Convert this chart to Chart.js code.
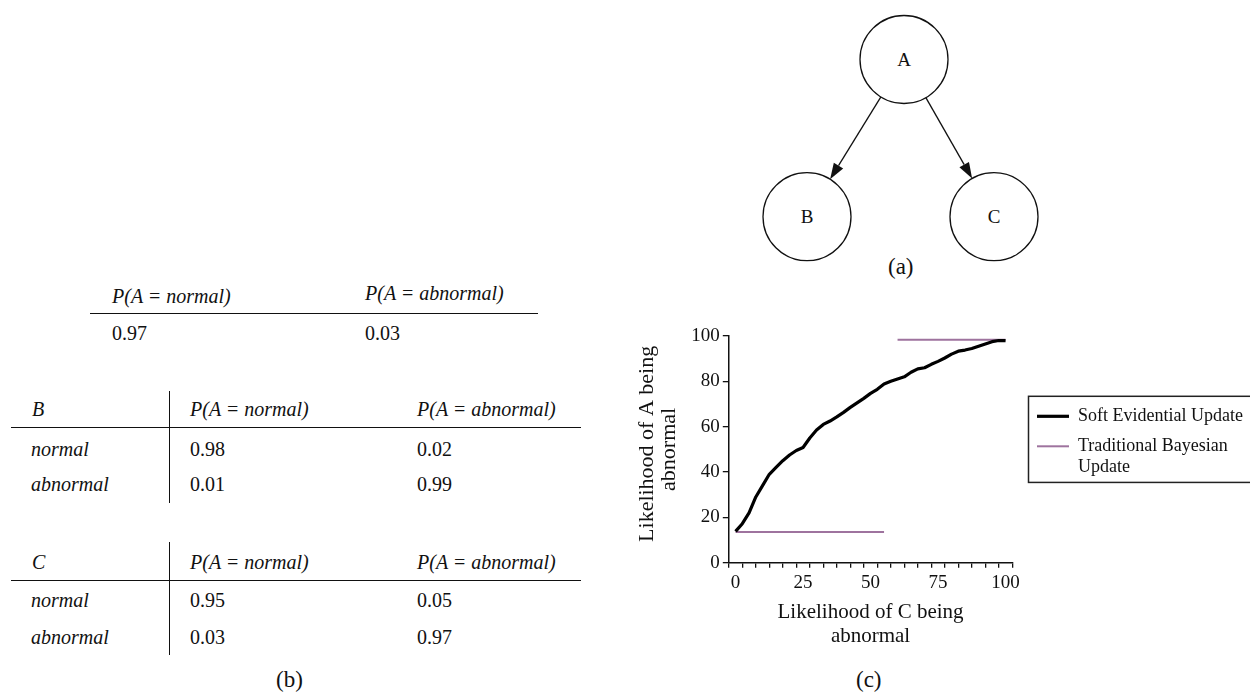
<!DOCTYPE html>
<html>
<head>
<meta charset="utf-8">
<script src="https://cdn.jsdelivr.net/npm/chart.js@4.4.1/dist/chart.umd.min.js"></script>
<style>
  html, body { margin: 0; padding: 0; background: #fff; }
  body { width: 1250px; height: 694px; position: relative; overflow: hidden;
         font-family: 'Liberation Serif', 'Times New Roman', serif; color: #111; }
  .t { position: absolute; font-size: 20px; line-height: 24px; white-space: nowrap; }
  .i { font-style: italic; }
  .cap { font-size: 23px; }
  .hl { position: absolute; height: 0; border-top: 1.3px solid #111; }
  .vl { position: absolute; width: 0; border-left: 1.3px solid #111; }
  #net { position: absolute; left: 0; top: 0; }
  #chartBox { position: absolute; left: 620px; top: 320px; width: 630px; height: 333px; }
</style>
</head>
<body>

<!-- (a) network -->
<svg id="net" width="1250" height="300"></svg>
<div class="t cap" style="left:888px; top:255px;">(a)</div>

<!-- (b) probability tables -->
<div class="t i" style="left:112px; top:284px;">P(A = normal)</div>
<div class="t i" style="left:365px; top:281px;">P(A = abnormal)</div>
<div class="hl" style="left:90px; top:313px; width:448px;"></div>
<div class="t" style="left:112px; top:321px;">0.97</div>
<div class="t" style="left:365px; top:321px;">0.03</div>

<div class="vl" style="left:169px; top:391px; height:112px;"></div>
<div class="t i" style="left:32px; top:397px;">B</div>
<div class="t i" style="left:190px; top:397px;">P(A = normal)</div>
<div class="t i" style="left:417px; top:397px;">P(A = abnormal)</div>
<div class="hl" style="left:11px; top:427px; width:570px;"></div>
<div class="t i" style="left:31px; top:437px;">normal</div>
<div class="t" style="left:190px; top:437px;">0.98</div>
<div class="t" style="left:417px; top:437px;">0.02</div>
<div class="t i" style="left:31px; top:472px;">abnormal</div>
<div class="t" style="left:190px; top:472px;">0.01</div>
<div class="t" style="left:417px; top:472px;">0.99</div>

<div class="vl" style="left:169px; top:542px; height:113px;"></div>
<div class="t i" style="left:32px; top:550px;">C</div>
<div class="t i" style="left:190px; top:550px;">P(A = normal)</div>
<div class="t i" style="left:417px; top:550px;">P(A = abnormal)</div>
<div class="hl" style="left:11px; top:580px; width:570px;"></div>
<div class="t i" style="left:31px; top:588px;">normal</div>
<div class="t" style="left:190px; top:588px;">0.95</div>
<div class="t" style="left:417px; top:588px;">0.05</div>
<div class="t i" style="left:31px; top:625px;">abnormal</div>
<div class="t" style="left:190px; top:625px;">0.03</div>
<div class="t" style="left:417px; top:625px;">0.97</div>

<div class="t cap" style="left:276px; top:668px;">(b)</div>

<!-- (c) chart -->
<div id="chartBox"><canvas id="chart"></canvas></div>
<div class="t cap" style="left:856px; top:668px;">(c)</div>

<script>
// likelihood of C being abnormal (x) vs likelihood of A being abnormal (y)
const softX = [0, 2.5, 5, 7.5, 10, 12.5, 15, 17.5, 20, 22.5, 25, 27.5, 30, 32.5, 35, 37.5, 40,
               42.5, 45, 47.5, 50, 52.5, 55, 57.5, 60, 62.5, 65, 67.5, 70, 72.5, 75, 77.5, 80,
               82.5, 85, 87.5, 90, 92.5, 95, 97.5, 100];
const softY = [13.8, 17.2, 22, 29, 34, 39, 42, 45, 47.5, 49.5, 50.8, 55, 58.5, 61, 62.5, 64.3, 66.3,
               68.5, 70.5, 72.5, 74.7, 76.5, 78.8, 80, 81, 82, 84, 85.5, 86, 87.5, 88.8, 90.3, 92,
               93.3, 93.8, 94.5, 95.5, 96.5, 97.5, 98, 98];

// traditional update: jumps once C is taken as abnormal
const bayesX = [0, 55, 57.5, 60, 100];
const bayesY = [13.5, 13.5, null, 98.4, 98.4];

const xTickLabels = [0, 25, 50, 75, 100];
const xMinorTicks = [-2.5, 2.5, 7.5, 12.5, 17.5, 22.5, 27.5, 32.5, 37.5, 42.5, 47.5, 52.5,
                     57.5, 62.5, 67.5, 72.5, 77.5, 82.5, 87.5, 92.5, 97.5, 102.5];

const softLabel = 'Soft Evidential Update';
const bayesLabel = ['Traditional Bayesian', 'Update'];

// network drawing
const net = document.getElementById('net');
const NS = 'http://www.w3.org/2000/svg';
const nodes = {A: [904, 59.5], B: [807, 216.7], C: [994, 216.7]};
const R = 44;

function el(name, attrs, text) {
    const e = document.createElementNS(NS, name);
    for (const k in attrs) e.setAttribute(k, attrs[k]);
    if (text) e.textContent = text;
    net.appendChild(e);
    return e;
}

function arrow(from, to) {
    const [x1, y1] = nodes[from], [x2, y2] = nodes[to];
    const d = Math.hypot(x2 - x1, y2 - y1);
    const ux = (x2 - x1) / d, uy = (y2 - y1) / d;
    const sx = x1 + ux * R, sy = y1 + uy * R;
    const tx = x2 - ux * R, ty = y2 - uy * R;
    const bx = tx - ux * 16, by = ty - uy * 16;
    el('line', {x1: sx, y1: sy, x2: bx, y2: by, stroke: '#111', 'stroke-width': 1.3});
    const pts = [[tx, ty], [bx - uy * 5.5, by + ux * 5.5], [bx + uy * 5.5, by - ux * 5.5]];
    el('polygon', {points: pts.map(p => p.join(',')).join(' '), fill: '#111'});
}

for (const k in nodes) {
    const [cx, cy] = nodes[k];
    el('circle', {cx, cy, r: R, fill: 'none', stroke: '#111', 'stroke-width': 1.3});
    el('text', {x: cx, y: cy + 6.5, 'text-anchor': 'middle', 'font-size': 19,
                'font-family': "'Liberation Serif', serif", fill: '#111'}, k);
}
arrow('A', 'B');
arrow('A', 'C');

// chart
Chart.defaults.font.family = "'Liberation Serif', 'Times New Roman', serif";
Chart.defaults.color = '#111';

// box round the legend
const legendFrame = {
    id: 'legendFrame',
    afterDraw(chart) {
        const lg = chart.legend;
        if (!lg || !lg.legendHitBoxes.length) return;
        const boxes = lg.legendHitBoxes;
        const first = boxes[0], last = boxes[boxes.length - 1];
        const top = first.top - 11, bottom = last.top + last.height + 3;
        const ctx = chart.ctx;
        ctx.save();
        ctx.strokeStyle = '#222';
        ctx.lineWidth = 1.5;
        ctx.strokeRect(lg.left + 3.5, top, chart.width, bottom - top);
        ctx.restore();
    }
};

new Chart(document.getElementById('chart'), {
    type: 'line',
    data: {
        datasets: [
            {
                label: softLabel,
                data: softX.map((x, i) => ({x, y: softY[i]})),
                borderColor: '#000',
                backgroundColor: '#000',
                borderWidth: 3.2,
                borderJoinStyle: 'round',
                pointRadius: 0,
                tension: 0
            },
            {
                label: bayesLabel,
                data: bayesX.map((x, i) => ({x, y: bayesY[i]})),
                borderColor: '#9e739e',
                backgroundColor: '#9e739e',
                borderWidth: 2,
                pointRadius: 0,
                spanGaps: false
            }
        ]
    },
    options: {
        animation: false,
        responsive: true,
        maintainAspectRatio: false,
        layout: {padding: {top: 16, left: 0, right: 0, bottom: 0}},
        plugins: {
            legend: {
                position: 'right',
                align: 'start',
                maxWidth: 225,
                title: {display: true, text: '', font: {size: 10, lineHeight: 1}, padding: {top: 49.3, bottom: 0}},
                labels: {
                    usePointStyle: true,
                    pointStyle: 'line',
                    pointStyleWidth: 32,
                    padding: 12,
                    color: '#111',
                    font: {size: 18, lineHeight: 1.17}
                }
            },
            tooltip: {enabled: false}
        },
        scales: {
            x: {
                type: 'linear',
                min: -2.5,
                max: 102.5,
                afterBuildTicks: s => { s.ticks = xMinorTicks.map(v => ({value: v})); },
                afterFit: s => { s.height = 5; },
                ticks: {display: false},
                grid: {drawOnChartArea: false, tickLength: 5, color: '#111', lineWidth: 1.3},
                border: {color: '#111', width: 1.5}
            },
            x2: {
                type: 'linear',
                position: 'bottom',
                min: -2.5,
                max: 102.5,
                afterBuildTicks: s => { s.ticks = xTickLabels.map(v => ({value: v})); },
                afterFit: s => { s.height = 85.3; },
                grid: {display: false, drawTicks: false},
                border: {display: false},
                ticks: {padding: 4, font: {size: 19}, color: '#111', maxRotation: 0},
                title: {
                    display: true,
                    text: ['Likelihood of C being', 'abnormal'],
                    font: {size: 21, lineHeight: 1.15},
                    color: '#111',
                    padding: {top: 4, bottom: 4}
                }
            },
            y: {
                min: 0,
                max: 100,
                afterFit: s => { s.width = 108.8; },
                ticks: {stepSize: 20, padding: 3, font: {size: 19}, color: '#111'},
                grid: {drawOnChartArea: false, tickLength: 6, color: '#111', lineWidth: 1.3},
                border: {color: '#111', width: 1.5},
                title: {
                    display: true,
                    text: ['  Likelihood of A being', 'abnormal'],
                    font: {size: 22, lineHeight: 1.0},
                    color: '#111',
                    padding: {top: 16, bottom: 4}
                }
            },
            // spacer between plot and legend
            y2: {
                type: 'linear',
                position: 'right',
                display: true,
                min: 0,
                max: 100,
                afterFit: s => { s.width = 12.7; },
                grid: {display: false, drawTicks: false},
                border: {display: false},
                ticks: {display: false}
            }
        }
    },
    plugins: [legendFrame]
});
</script>
</body>
</html>
